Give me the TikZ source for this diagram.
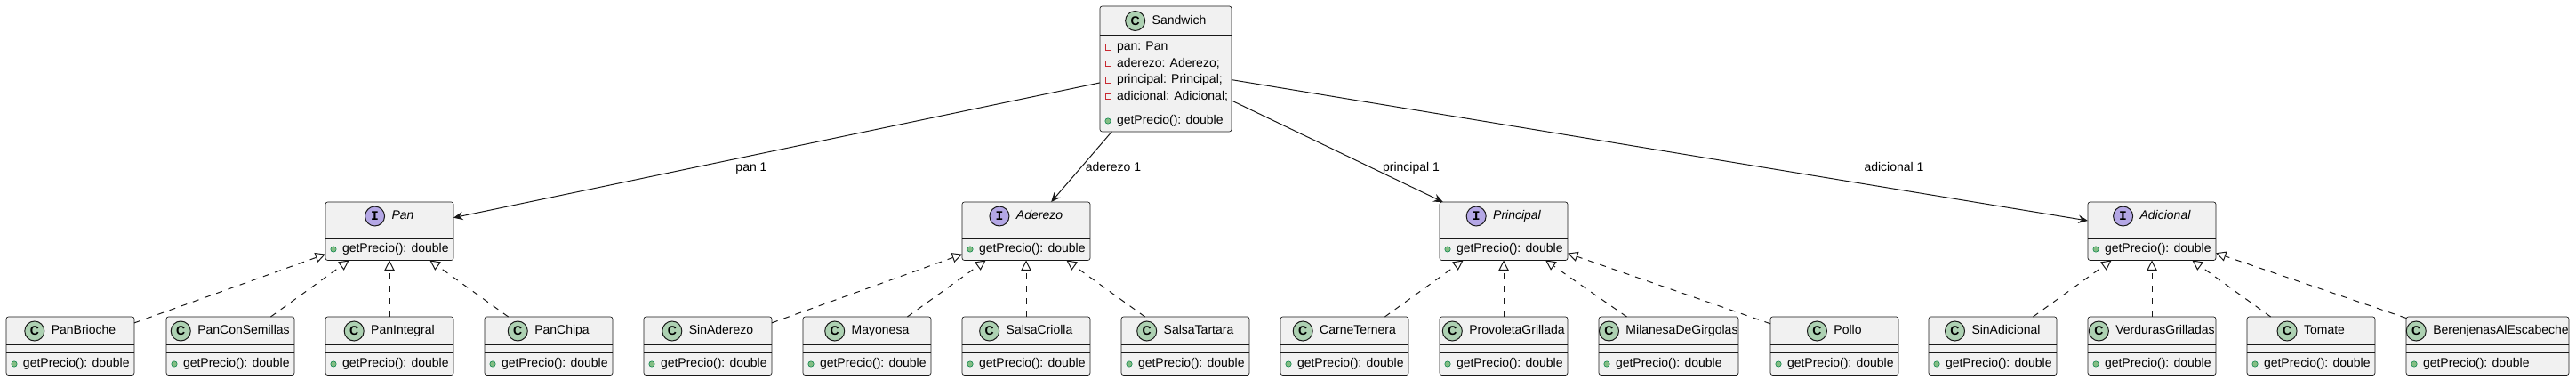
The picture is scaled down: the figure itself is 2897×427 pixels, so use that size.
\documentclass[tikz,border=0pt]{standalone}
\usepackage{fontspec}
\setmainfont{Liberation Sans}
\newfontfamily\monofam{Liberation Mono}
\usetikzlibrary{arrows.meta}
\definecolor{boxfill}{HTML}{F1F1F1}
\definecolor{boxline}{HTML}{181818}
\definecolor{cIconFill}{HTML}{ADD1B2}
\definecolor{iIconFill}{HTML}{B4A7E5}
\definecolor{privred}{HTML}{C82930}
\definecolor{pubfill}{HTML}{84BE84}
\definecolor{publine}{HTML}{038048}
\tikzset{
  umlbox/.style={rectangle, draw=boxline, line width=0.5pt, fill=boxfill, rounded corners=1.9pt, inner sep=0pt, outer sep=0pt},
  sepline/.style={draw=boxline, line width=0.5pt},
  txt/.style={inner sep=0pt, outer sep=0pt, text height=7.8pt, text depth=2.2pt, font=\fontsize{10.5pt}{12pt}\selectfont},
  clsicon/.style={circle, draw=boxline, line width=0.75pt, fill=cIconFill, minimum size=16.5pt, inner sep=0pt, font=\fontsize{10.5pt}{12pt}\selectfont\bfseries},
  ifcicon/.style={circle, draw=boxline, line width=0.75pt, fill=iIconFill, minimum size=16.5pt, inner sep=0pt, font=\fontsize{11pt}{12pt}\monofam\bfseries},
  privsq/.style={rectangle, draw=privred, line width=0.6pt, minimum size=5pt, inner sep=0pt},
  pubdot/.style={circle, draw=publine, fill=pubfill, line width=0.4pt, minimum size=4.8pt, inner sep=0pt},
  assoc/.style={draw=boxline, line width=0.75pt, -{Stealth[length=8pt,width=7pt,inset=2.8pt]}},
  realize/.style={draw=boxline, line width=0.75pt, dash pattern=on 5.25pt off 5.25pt, -{Triangle[open,length=8.5pt,width=8.5pt]}}
}
% id, left, top, width, icon style, letter, title
\newcommand\ubox[7]{%
  \node[umlbox, anchor=north west, minimum width=#4*0.75pt, minimum height=65.5*0.75pt] (#1) at (#2,#3) {};
  \draw[sepline] ({#2},{#3+31.5}) -- ({#2+#4},{#3+31.5});
  \draw[sepline] ({#2},{#3+40}) -- ({#2+#4},{#3+40});
  \node[txt] (#1-t) at ({#2+#4/2+15},{#3+16}) {#7};
  \node[#5] (#1-i) at ([xshift=-14.25pt]#1-t.west) {#6};
  \node[pubdot] (#1-d) at ({#2+9},{#3+53}) {};
  \node[txt, anchor=west] (#1-m) at ({#2+19},{#3+53}) {getPrecio(): double};
}
\begin{document}
\begin{tikzpicture}[x=0.75pt,y=-0.75pt]
\useasboundingbox (0,0) rectangle (2897,427);
% Sandwich
\node[umlbox, anchor=north west, minimum width=148*0.75pt, minimum height=141*0.75pt] (sw) at (1237,7) {};
\draw[sepline] (1237,39) -- (1385,39);
\draw[sepline] (1237,122) -- (1385,122);
\node[txt] (sw-t) at (1326,23.5) {Sandwich};
\node[clsicon] (sw-i) at ([xshift=-14.25pt]sw-t.west) {C};
\node[privsq] (sw-a1i) at (1246.5,53) {};
\node[txt, anchor=west] (sw-a1) at (1256,53) {pan: Pan};
\node[privsq] (sw-a2i) at (1246.5,71.5) {};
\node[txt, anchor=west] (sw-a2) at (1256,71.5) {aderezo: Aderezo;};
\node[privsq] (sw-a3i) at (1246.5,90) {};
\node[txt, anchor=west] (sw-a3) at (1256,90) {principal: Principal;};
\node[privsq] (sw-a4i) at (1246.5,108.5) {};
\node[txt, anchor=west] (sw-a4) at (1256,108.5) {adicional: Adicional;};
\node[pubdot] (sw-d) at (1246,136) {};
\node[txt, anchor=west] (sw-m) at (1256,136) {getPrecio(): double};
% interfaces
\ubox{pan}{366}{227}{144}{ifcicon}{I}{\itshape Pan}
\ubox{ad}{1082}{227}{144}{ifcicon}{I}{\itshape Aderezo}
\ubox{pr}{1619}{227}{144}{ifcicon}{I}{\itshape Principal}
\ubox{adi}{2348}{227}{144}{ifcicon}{I}{\itshape Adicional}
% classes
\ubox{pb}{7}{356}{144}{clsicon}{C}{PanBrioche}
\ubox{pcs}{187}{356}{144}{clsicon}{C}{PanConSemillas}
\ubox{pi}{366}{356}{144}{clsicon}{C}{PanIntegral}
\ubox{pch}{545}{356}{144}{clsicon}{C}{PanChipa}
\ubox{sa}{724}{356}{144}{clsicon}{C}{SinAderezo}
\ubox{may}{903}{356}{144}{clsicon}{C}{Mayonesa}
\ubox{sc}{1082}{356}{144}{clsicon}{C}{SalsaCriolla}
\ubox{st}{1261}{356}{144}{clsicon}{C}{SalsaTartara}
\ubox{ct}{1440}{356}{144}{clsicon}{C}{CarneTernera}
\ubox{pg}{1619}{356}{144}{clsicon}{C}{ProvoletaGrillada}
\ubox{mg}{1798}{356}{157}{clsicon}{C}{MilanesaDeGirgolas}
\ubox{po}{1991}{356}{144}{clsicon}{C}{Pollo}
\ubox{sad}{2169}{356}{144}{clsicon}{C}{SinAdicional}
\ubox{vg}{2348}{356}{144}{clsicon}{C}{VerdurasGrilladas}
\ubox{to}{2527}{356}{144}{clsicon}{C}{Tomate}
\ubox{be}{2706}{356}{183}{clsicon}{C}{BerenjenasAlEscabeche}
% associations
\draw[assoc] (sw) -- (pan);
\draw[assoc] (sw) -- (ad);
\draw[assoc] (sw) -- (pr);
\draw[assoc] (sw) -- (adi);
\node[txt] (l-pan) at (845,189) {pan 1};
\node[txt] (l-ad) at (1252,189) {aderezo 1};
\node[txt] (l-pr) at (1587,189) {principal 1};
\node[txt] (l-adi) at (2130,189) {adicional 1};
% realizations
\foreach \c in {pb,pcs,pi,pch} \draw[realize] (\c) -- (pan);
\foreach \c in {sa,may,sc,st} \draw[realize] (\c) -- (ad);
\foreach \c in {ct,pg,mg,po} \draw[realize] (\c) -- (pr);
\foreach \c in {sad,vg,to,be} \draw[realize] (\c) -- (adi);
\end{tikzpicture}
\end{document}
